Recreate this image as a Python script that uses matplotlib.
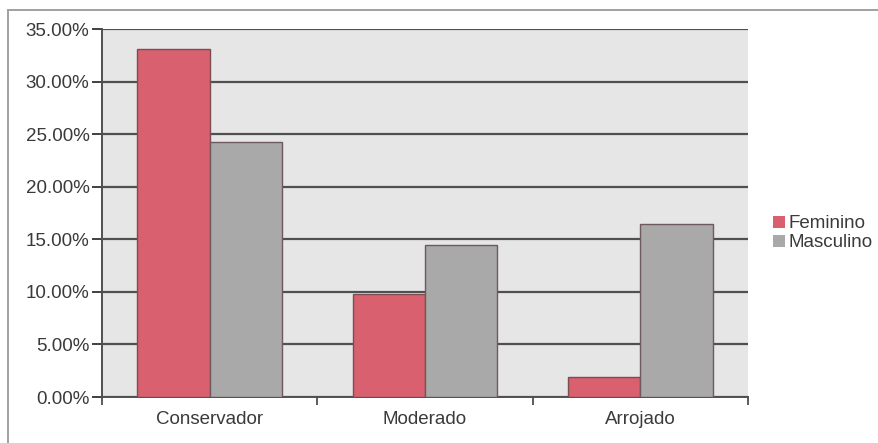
import matplotlib
matplotlib.use("Agg")
import matplotlib.pyplot as plt
from matplotlib.lines import Line2D
import numpy as np
from matplotlib.ticker import FuncFormatter, FixedLocator

categories = ["Conservador", "Moderado", "Arrojado"]
feminino = [33.1, 9.8, 1.9]
masculino = [24.3, 14.5, 16.5]
series_names = ["Feminino", "Masculino"]

plt.rcParams["font.family"] = ["Liberation Sans", "DejaVu Sans"]

fig = plt.figure(figsize=(8.79, 4.43), dpi=100)
W, H = 879, 443
ax = fig.add_axes([102 / W, 1 - 397 / H, (748 - 102) / W, (397 - 29) / H])

# outer chart frame: top and left edges only
fig.lines.append(Line2D([8 / W, 1.0], [1 - 10 / H, 1 - 10 / H],
                        transform=fig.transFigure, color="#a0a0a0", linewidth=1.4))
fig.lines.append(Line2D([8 / W, 8 / W], [0.0, 1 - 10 / H],
                        transform=fig.transFigure, color="#a0a0a0", linewidth=1.4))

ax.set_facecolor("#e6e6e6")
x = np.arange(len(categories))
w = 0.336
ax.bar(x - w / 2, feminino, w, color="#d9606e", edgecolor="#7a4e50",
       linewidth=1.0, label=series_names[0], zorder=3)
ax.bar(x + w / 2, masculino, w, color="#a9a9a9", edgecolor="#6e5a5c",
       linewidth=1.0, label=series_names[1], zorder=3)

ax.set_xlim(-0.5, 2.5)
ax.set_ylim(0, 35)
ax.set_yticks(np.arange(0, 35.1, 5))
ax.yaxis.set_major_formatter(FuncFormatter(lambda v, p: f"{v:.2f}%"))
ax.yaxis.grid(True, color="#505050", linewidth=1.6, zorder=1)
ax.set_axisbelow(True)

ax.set_xticks(x)
ax.set_xticklabels(categories)
ax.xaxis.set_minor_locator(FixedLocator([-0.5, 0.5, 1.5, 2.5]))
ax.tick_params(axis="x", which="major", length=0, pad=10, labelsize=13.5,
               labelcolor="#3a3a3a")
ax.tick_params(axis="x", which="minor", length=6, width=1.2, color="#404040")
ax.tick_params(axis="y", length=7, width=1.4, color="#404040", pad=2,
               labelsize=13.5, labelcolor="#3a3a3a")

for s in ["top", "right"]:
    ax.spines[s].set_visible(False)
ax.spines["left"].set_color("#505050")
ax.spines["left"].set_linewidth(1.4)
ax.spines["bottom"].set_color("#505050")
ax.spines["bottom"].set_linewidth(1.4)

leg = fig.legend(loc="upper left", bbox_to_anchor=(764 / W, 1 - 206 / H),
                 frameon=False, fontsize=13.5, handlelength=0.6,
                 handleheight=0.6, handletextpad=0.2, labelspacing=0.1,
                 borderpad=0, labelcolor="#3a3a3a")
for h in leg.legend_handles:
    h.set_edgecolor("none")

fig.savefig("out.png", dpi=100, facecolor="white")
